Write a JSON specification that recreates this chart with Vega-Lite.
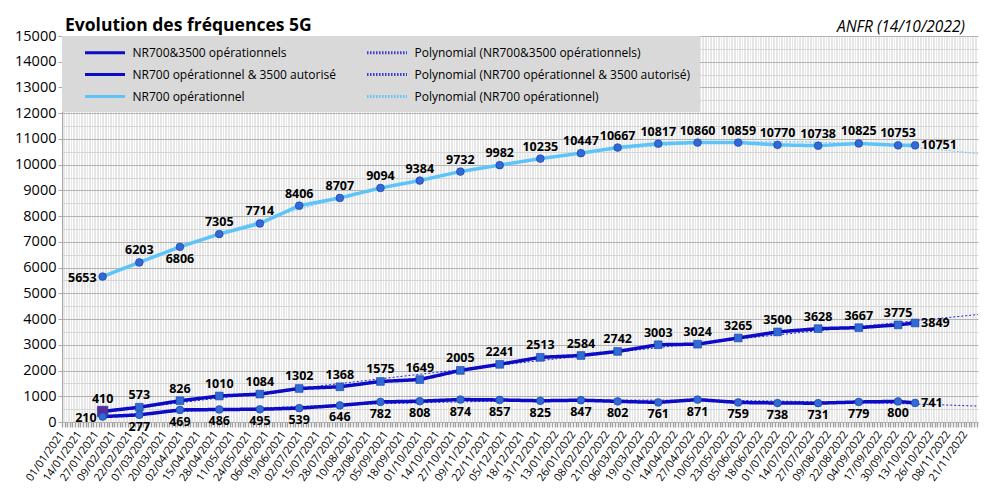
{
  "$schema": "https://vega.github.io/schema/vega-lite/v6.json",
  "width": 916,
  "height": 386,
  "autosize": "none",
  "padding": {"left": 62, "top": 36, "right": 25, "bottom": 77},
  "background": "white",
  "title": {
    "text": "Evolution des fréquences 5G",
    "anchor": "start",
    "frame": "group",
    "font": "Open Sans",
    "fontSize": 17.5,
    "fontWeight": "bold",
    "color": "black",
    "offset": -14,
    "dx": 3
  },
  "data": {
    "format": {"parse": {"date": "date"}},
    "values": [
      {"date": "2021-02-01", "series": "NR700&3500 opérationnels", "value": 410},
      {"date": "2021-03-01", "series": "NR700&3500 opérationnels", "value": 573},
      {"date": "2021-04-01", "series": "NR700&3500 opérationnels", "value": 826},
      {"date": "2021-05-01", "series": "NR700&3500 opérationnels", "value": 1010},
      {"date": "2021-06-01", "series": "NR700&3500 opérationnels", "value": 1084},
      {"date": "2021-07-01", "series": "NR700&3500 opérationnels", "value": 1302},
      {"date": "2021-08-01", "series": "NR700&3500 opérationnels", "value": 1368},
      {"date": "2021-09-01", "series": "NR700&3500 opérationnels", "value": 1575},
      {"date": "2021-10-01", "series": "NR700&3500 opérationnels", "value": 1649},
      {"date": "2021-11-01", "series": "NR700&3500 opérationnels", "value": 2005},
      {"date": "2021-12-01", "series": "NR700&3500 opérationnels", "value": 2241},
      {"date": "2022-01-01", "series": "NR700&3500 opérationnels", "value": 2513},
      {"date": "2022-02-01", "series": "NR700&3500 opérationnels", "value": 2584},
      {"date": "2022-03-01", "series": "NR700&3500 opérationnels", "value": 2742},
      {"date": "2022-04-01", "series": "NR700&3500 opérationnels", "value": 3003},
      {"date": "2022-05-01", "series": "NR700&3500 opérationnels", "value": 3024},
      {"date": "2022-06-01", "series": "NR700&3500 opérationnels", "value": 3265},
      {"date": "2022-07-01", "series": "NR700&3500 opérationnels", "value": 3500},
      {"date": "2022-08-01", "series": "NR700&3500 opérationnels", "value": 3628},
      {"date": "2022-09-01", "series": "NR700&3500 opérationnels", "value": 3667},
      {"date": "2022-10-01", "series": "NR700&3500 opérationnels", "value": 3775},
      {"date": "2022-10-14", "series": "NR700&3500 opérationnels", "value": 3849},
      {"date": "2021-02-01", "series": "NR700 opérationnel & 3500 autorisé", "value": 210},
      {"date": "2021-03-01", "series": "NR700 opérationnel & 3500 autorisé", "value": 277},
      {"date": "2021-04-01", "series": "NR700 opérationnel & 3500 autorisé", "value": 469},
      {"date": "2021-05-01", "series": "NR700 opérationnel & 3500 autorisé", "value": 486},
      {"date": "2021-06-01", "series": "NR700 opérationnel & 3500 autorisé", "value": 495},
      {"date": "2021-07-01", "series": "NR700 opérationnel & 3500 autorisé", "value": 539},
      {"date": "2021-08-01", "series": "NR700 opérationnel & 3500 autorisé", "value": 646},
      {"date": "2021-09-01", "series": "NR700 opérationnel & 3500 autorisé", "value": 782},
      {"date": "2021-10-01", "series": "NR700 opérationnel & 3500 autorisé", "value": 808},
      {"date": "2021-11-01", "series": "NR700 opérationnel & 3500 autorisé", "value": 874},
      {"date": "2021-12-01", "series": "NR700 opérationnel & 3500 autorisé", "value": 857},
      {"date": "2022-01-01", "series": "NR700 opérationnel & 3500 autorisé", "value": 825},
      {"date": "2022-02-01", "series": "NR700 opérationnel & 3500 autorisé", "value": 847},
      {"date": "2022-03-01", "series": "NR700 opérationnel & 3500 autorisé", "value": 802},
      {"date": "2022-04-01", "series": "NR700 opérationnel & 3500 autorisé", "value": 761},
      {"date": "2022-05-01", "series": "NR700 opérationnel & 3500 autorisé", "value": 871},
      {"date": "2022-06-01", "series": "NR700 opérationnel & 3500 autorisé", "value": 759},
      {"date": "2022-07-01", "series": "NR700 opérationnel & 3500 autorisé", "value": 738},
      {"date": "2022-08-01", "series": "NR700 opérationnel & 3500 autorisé", "value": 731},
      {"date": "2022-09-01", "series": "NR700 opérationnel & 3500 autorisé", "value": 779},
      {"date": "2022-10-01", "series": "NR700 opérationnel & 3500 autorisé", "value": 800},
      {"date": "2022-10-14", "series": "NR700 opérationnel & 3500 autorisé", "value": 741},
      {"date": "2021-02-01", "series": "NR700 opérationnel", "value": 5653},
      {"date": "2021-03-01", "series": "NR700 opérationnel", "value": 6203},
      {"date": "2021-04-01", "series": "NR700 opérationnel", "value": 6806},
      {"date": "2021-05-01", "series": "NR700 opérationnel", "value": 7305},
      {"date": "2021-06-01", "series": "NR700 opérationnel", "value": 7714},
      {"date": "2021-07-01", "series": "NR700 opérationnel", "value": 8406},
      {"date": "2021-08-01", "series": "NR700 opérationnel", "value": 8707},
      {"date": "2021-09-01", "series": "NR700 opérationnel", "value": 9094},
      {"date": "2021-10-01", "series": "NR700 opérationnel", "value": 9384},
      {"date": "2021-11-01", "series": "NR700 opérationnel", "value": 9732},
      {"date": "2021-12-01", "series": "NR700 opérationnel", "value": 9982},
      {"date": "2022-01-01", "series": "NR700 opérationnel", "value": 10235},
      {"date": "2022-02-01", "series": "NR700 opérationnel", "value": 10447},
      {"date": "2022-03-01", "series": "NR700 opérationnel", "value": 10667},
      {"date": "2022-04-01", "series": "NR700 opérationnel", "value": 10817},
      {"date": "2022-05-01", "series": "NR700 opérationnel", "value": 10860},
      {"date": "2022-06-01", "series": "NR700 opérationnel", "value": 10859},
      {"date": "2022-07-01", "series": "NR700 opérationnel", "value": 10770},
      {"date": "2022-08-01", "series": "NR700 opérationnel", "value": 10738},
      {"date": "2022-09-01", "series": "NR700 opérationnel", "value": 10825},
      {"date": "2022-10-01", "series": "NR700 opérationnel", "value": 10753},
      {"date": "2022-10-14", "series": "NR700 opérationnel", "value": 10751}
    ]
  },
  "resolve": {"axis": {"x": "independent", "y": "independent"}},
  "layer": [
    {
      "mark": {"type": "line", "strokeWidth": 3.5},
      "encoding": {
        "x": {
          "field": "date",
          "type": "temporal",
          "scale": {"type": "utc", "domain": [{"year": 2021, "month": 1, "date": 1, "utc": true}, {"year": 2022, "month": 12, "date": 1, "utc": true}]},
          "axis": {
            "orient": "bottom",
            "title": null,
            "labels": false,
            "domain": false,
            "grid": true,
            "gridColor": "white",
            "gridWidth": 1,
            "tickCount": 200,
            "ticks": true,
            "tickSize": 5,
            "tickWidth": 1.4,
            "tickColor": "#a0a0a0"
          }
        },
        "y": {
          "field": "value",
          "type": "quantitative",
          "scale": {"domain": [0, 15000], "nice": false},
          "axis": {
            "orient": "left",
            "title": null,
            "labels": false,
            "ticks": false,
            "domain": false,
            "grid": true,
            "gridColor": "#d6d6d6",
            "values": [500, 1500, 2500, 3500, 4500, 5500, 6500, 7500, 8500, 9500, 10500, 11500, 12500, 13500, 14500]
          }
        },
        "color": {
          "field": "series",
          "type": "nominal",
          "scale": {
            "domain": [
              "NR700&3500 opérationnels",
              "NR700 opérationnel & 3500 autorisé",
              "NR700 opérationnel",
              "Polynomial (NR700&3500 opérationnels)",
              "Polynomial (NR700 opérationnel & 3500 autorisé)",
              "Polynomial (NR700 opérationnel)"
            ],
            "range": ["#0c0cc6", "#0c0cc6", "#5ec4f7", "#3a3ad2", "#3a3ad2", "#5ec4f7"]
          },
          "legend": {
            "title": null,
            "orient": "none",
            "legendX": 0,
            "legendY": 0,
            "columns": 2,
            "fillColor": "#d9d9d9",
            "padding": 9,
            "rowPadding": 8,
            "columnPadding": 17,
            "symbolType": "M-3.33,0H3.33",
            "symbolSize": 144,
            "symbolStrokeWidth": 3,
            "symbolOffset": 26.5,
            "labelOffset": 20,
            "labelFont": "Open Sans",
            "labelFontSize": 12,
            "labelColor": "black",
            "labelLimit": 400
          }
        },
        "strokeDash": {
          "field": "series",
          "type": "nominal",
          "scale": {
            "domain": [
              "NR700&3500 opérationnels",
              "NR700 opérationnel & 3500 autorisé",
              "NR700 opérationnel",
              "Polynomial (NR700&3500 opérationnels)",
              "Polynomial (NR700 opérationnel & 3500 autorisé)",
              "Polynomial (NR700 opérationnel)"
            ],
            "range": [[1, 0], [1, 0], [1, 0], [1.5, 1.5], [1.5, 1.5], [1.5, 1.5]]
          }
        }
      }
    },
    {
      "transform": [
        {
          "regression": "value",
          "on": "date",
          "groupby": ["series"],
          "method": "poly",
          "order": 2,
          "extent": [1612137600000, 1669852800000]
        }
      ],
      "mark": {"type": "line", "strokeWidth": 0.9, "strokeDash": [2, 2]},
      "encoding": {
        "x": {
          "field": "date",
          "type": "temporal",
          "axis": {
            "orient": "bottom",
            "title": null,
            "values": [1609459200000, 1610582400000, 1611705600000, 1612828800000, 1613952000000, 1615075200000, 1616198400000, 1617321600000, 1618444800000, 1619568000000, 1620691200000, 1621814400000, 1622937600000, 1624060800000, 1625184000000, 1626307200000, 1627430400000, 1628553600000, 1629676800000, 1630800000000, 1631923200000, 1633046400000, 1634169600000, 1635292800000, 1636416000000, 1637539200000, 1638662400000, 1639785600000, 1640908800000, 1642032000000, 1643155200000, 1644278400000, 1645401600000, 1646524800000, 1647648000000, 1648771200000, 1649894400000, 1651017600000, 1652140800000, 1653264000000, 1654387200000, 1655510400000, 1656633600000, 1657756800000, 1658880000000, 1660003200000, 1661126400000, 1662249600000, 1663372800000, 1664496000000, 1665619200000, 1666742400000, 1667865600000, 1668988800000],
            "format": "%d/%m/%Y",
            "grid": false,
            "ticks": false,
            "domain": false,
            "labelAngle": -55,
            "labelAlign": "right",
            "labelBaseline": "middle",
            "labelPadding": 10,
            "labelFlush": false,
            "labelOverlap": false,
            "labelBound": false,
            "labelFont": "Open Sans",
            "labelFontSize": 11,
            "labelColor": "black"
          }
        },
        "y": {
          "field": "value",
          "type": "quantitative",
          "axis": {
            "orient": "left",
            "title": null,
            "values": [0, 1000, 2000, 3000, 4000, 5000, 6000, 7000, 8000, 9000, 10000, 11000, 12000, 13000, 14000, 15000],
            "format": "d",
            "grid": true,
            "gridColor": "#b4b4b4",
            "domain": true,
            "domainColor": "#a8a8a8",
            "ticks": true,
            "tickSize": 4,
            "tickColor": "#a8a8a8",
            "labelPadding": 2,
            "labelFont": "Open Sans",
            "labelFontSize": 14.5,
            "labelColor": "black"
          }
        },
        "color": {"field": "series", "type": "nominal"}
      }
    },
    {
      "transform": [{"filter": "datum.series == 'NR700&3500 opérationnels'"}],
      "mark": {"type": "point", "shape": "square", "filled": true, "opacity": 1, "stroke": "#173c98", "strokeWidth": 0.6},
      "encoding": {
        "x": {"field": "date", "type": "temporal", "axis": null},
        "y": {"field": "value", "type": "quantitative", "axis": null},
        "fill": {
          "condition": {"test": "time(datum.date) == utc(2021, 1, 1)", "value": "#5a2a9c"},
          "value": "#2f6ad8"
        },
        "size": {
          "condition": {"test": "time(datum.date) == utc(2021, 1, 1)", "value": 110},
          "value": 60
        }
      }
    },
    {
      "transform": [{"filter": "datum.series != 'NR700&3500 opérationnels'"}],
      "mark": {"type": "circle", "size": 60, "opacity": 1, "color": "#2f6ad8", "stroke": "#173c98", "strokeWidth": 0.6},
      "encoding": {
        "x": {"field": "date", "type": "temporal", "axis": null},
        "y": {"field": "value", "type": "quantitative", "axis": null}
      }
    },
    {
      "transform": [{"filter": "(datum.series == 'NR700&3500 opérationnels' || datum.series == 'NR700 opérationnel') && time(datum.date) != utc(2022, 9, 14) && !(datum.series == 'NR700 opérationnel' && (time(datum.date) == utc(2021, 1, 1) || time(datum.date) == utc(2021, 3, 1)))"}],
      "mark": {"type": "text", "font": "Open Sans", "fontSize": 12.5, "fontWeight": "bold", "color": "black", "baseline": "bottom", "dy": -5},
      "encoding": {
        "x": {"field": "date", "type": "temporal", "axis": null},
        "y": {"field": "value", "type": "quantitative", "axis": null},
        "text": {"field": "value", "type": "quantitative", "format": "d"}
      }
    },
    {
      "transform": [{"filter": "(datum.series == 'NR700 opérationnel & 3500 autorisé' && time(datum.date) != utc(2021, 1, 1) && time(datum.date) != utc(2022, 9, 14)) || (datum.series == 'NR700 opérationnel' && time(datum.date) == utc(2021, 3, 1))"}],
      "mark": {"type": "text", "font": "Open Sans", "fontSize": 12.5, "fontWeight": "bold", "color": "black", "baseline": "top", "dy": 6},
      "encoding": {
        "x": {"field": "date", "type": "temporal", "axis": null},
        "y": {"field": "value", "type": "quantitative", "axis": null},
        "text": {"field": "value", "type": "quantitative", "format": "d"}
      }
    },
    {
      "transform": [{"filter": "datum.series != 'NR700&3500 opérationnels' && time(datum.date) == utc(2021, 1, 1)"}],
      "mark": {"type": "text", "font": "Open Sans", "fontSize": 12.5, "fontWeight": "bold", "color": "black", "align": "right", "baseline": "middle", "dx": -6, "dy": 1},
      "encoding": {
        "x": {"field": "date", "type": "temporal", "axis": null},
        "y": {"field": "value", "type": "quantitative", "axis": null},
        "text": {"field": "value", "type": "quantitative", "format": "d"}
      }
    },
    {
      "transform": [{"filter": "time(datum.date) == utc(2022, 9, 14)"}],
      "mark": {"type": "text", "font": "Open Sans", "fontSize": 12.5, "fontWeight": "bold", "color": "black", "align": "left", "baseline": "middle", "dx": 6},
      "encoding": {
        "x": {"field": "date", "type": "temporal", "axis": null},
        "y": {"field": "value", "type": "quantitative", "axis": null},
        "text": {"field": "value", "type": "quantitative", "format": "d"}
      }
    },
    {
      "data": {"values": [{"note": "ANFR (14/10/2022)"}]},
      "mark": {"type": "text", "font": "Open Sans", "fontSize": 15.5, "fontStyle": "italic", "color": "black", "align": "right", "baseline": "alphabetic", "dy": -4},
      "encoding": {
        "x": {"datum": {"year": 2022, "month": 11, "date": 21, "utc": true}, "type": "temporal", "axis": null},
        "y": {"datum": 15000, "type": "quantitative", "axis": null},
        "text": {"field": "note", "type": "nominal"}
      }
    }
  ],
  "config": {
    "view": {"fill": "#e6e6e6", "stroke": null}
  }
}
